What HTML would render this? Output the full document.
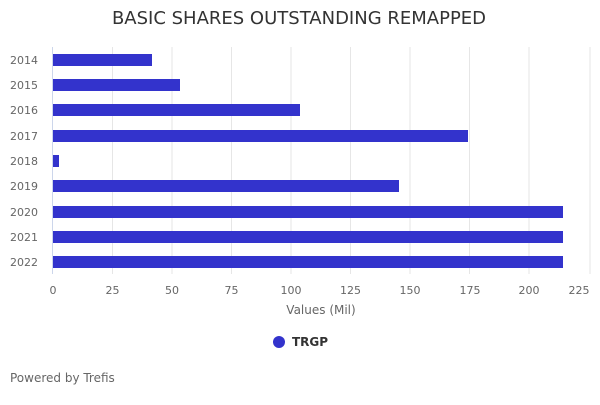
<!DOCTYPE html>
<html><head><style>body{margin:0;background:#fff}</style></head><body>
<svg width="600" height="400" xmlns="http://www.w3.org/2000/svg" font-family="DejaVu Sans, sans-serif">
<text x="299" y="24" text-anchor="middle" font-size="18" fill="#333">BASIC SHARES OUTSTANDING REMAPPED</text>
<g stroke="#e6e6e6" stroke-width="1">
<line x1="112.5" y1="47" x2="112.5" y2="274"/><line x1="172" y1="47" x2="172" y2="274"/>
<line x1="231.5" y1="47" x2="231.5" y2="274"/><line x1="291" y1="47" x2="291" y2="274"/>
<line x1="350.5" y1="47" x2="350.5" y2="274"/><line x1="410" y1="47" x2="410" y2="274"/>
<line x1="469.5" y1="47" x2="469.5" y2="274"/><line x1="529" y1="47" x2="529" y2="274"/>
<line x1="590" y1="47" x2="590" y2="274"/>
</g>
<line x1="52.5" y1="47" x2="52.5" y2="274" stroke="#ccd6eb"/>
<g fill="#3333cc">
<rect x="53" y="54" width="99" height="12"/>
<rect x="53" y="79" width="127" height="12"/>
<rect x="53" y="104" width="247" height="12"/>
<rect x="53" y="130" width="415" height="12"/>
<rect x="53" y="155" width="6" height="12"/>
<rect x="53" y="180" width="346" height="12"/>
<rect x="53" y="206" width="510" height="12"/>
<rect x="53" y="231" width="510" height="12"/>
<rect x="53" y="256" width="510" height="12"/>
</g>
<g font-size="11" fill="#666" text-anchor="end">
<text x="38" y="64">2014</text><text x="38" y="89">2015</text><text x="38" y="114">2016</text>
<text x="38" y="140">2017</text><text x="38" y="165">2018</text><text x="38" y="190">2019</text>
<text x="38" y="216">2020</text><text x="38" y="241">2021</text><text x="38" y="266">2022</text>
</g>
<g font-size="11" fill="#666" text-anchor="middle">
<text x="53" y="294">0</text><text x="112.5" y="294">25</text><text x="172" y="294">50</text>
<text x="231.5" y="294">75</text><text x="291" y="294">100</text><text x="350.5" y="294">125</text>
<text x="410" y="294">150</text><text x="470" y="294">175</text><text x="529" y="294">200</text>
<text x="579" y="294">225</text>
</g>
<text x="321" y="314" text-anchor="middle" font-size="12" fill="#666">Values (Mil)</text>
<circle cx="279" cy="342" r="6" fill="#3333cc"/>
<text x="292" y="346" font-size="12" font-weight="bold" fill="#333">TRGP</text>
<text x="10" y="382" font-size="12" fill="#666">Powered by Trefis</text>
</svg>
</body></html>
